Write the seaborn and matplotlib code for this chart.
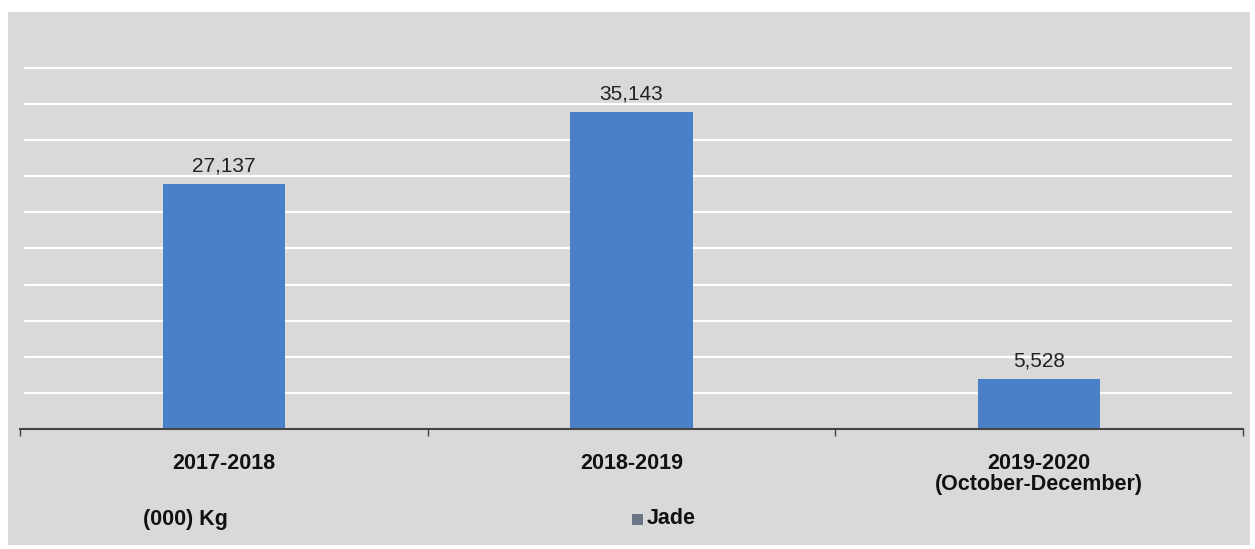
#Bar chart of jade production per fiscal year
import pandas as pd
import numpy as np
import seaborn as sns
import matplotlib.pyplot as plt
from matplotlib.patches import Rectangle

periods = ['2017-2018', '2018-2019', '2019-2020\n(October-December)']
jade = [27137, 35143, 5528]
unit_label = '(000) Kg'
series_name = 'Jade'

bg = '#d9d9d9'
bar_color = '#4a80c8'

sns.set_theme(style='white')
plt.rcParams['font.family'] = ['Liberation Sans', 'DejaVu Sans']

df = pd.DataFrame({'period': periods, 'value': jade})

fig = plt.figure(figsize=(12.55, 5.49), dpi=100)
fig.patch.set_facecolor('white')
# gray panel behind the whole chart, labels included
fig.patches.append(Rectangle((8 / 1255, 4 / 549), 1242 / 1255, 533 / 549,
                             transform=fig.transFigure, facecolor=bg,
                             edgecolor='none', zorder=-5))

ax = fig.add_axes([20 / 1255, 120 / 549, 1223 / 1255, 417 / 549])
ax.set_zorder(2)
ax.patch.set_alpha(0)

sns.barplot(data=df, x='period', y='value', color=bar_color, width=0.3,
            saturation=1, edgecolor='none', linewidth=0, ax=ax, zorder=3)

ax.set_xlim(-0.5, 2.5)
ax.set_ylim(0, 46200)

# white gridlines every 4000
for yv in np.arange(4000, 40001, 4000):
    ax.axhline(yv, xmin=0.004, xmax=0.99, color='white', lw=1.6, zorder=1)

ax.bar_label(ax.containers[0], labels=[f'{v:,}' for v in jade],
             padding=6, fontsize=15, color='#222222')

for s in ['top', 'right', 'left']:
    ax.spines[s].set_visible(False)
ax.spines['bottom'].set_color('#444444')
ax.spines['bottom'].set_linewidth(1.5)
ax.spines['bottom'].set_zorder(4)

ax.set_yticks([])
ax.set_xticks([0, 1, 2])
ax.set_xticklabels(periods, fontsize=15.5, fontweight='bold', color='#111111',
                   linespacing=1.0)
ax.tick_params(axis='x', length=0, pad=17)
# small boundary tick marks between categories
ax.set_xticks([-0.5, 0.5, 1.5, 2.5], minor=True)
ax.tick_params(axis='x', which='minor', length=5, width=1, color='#444444',
               direction='out', bottom=True)
ax.set_xlabel('')
ax.set_ylabel('')

fig.text(143 / 1255, 1 - 519 / 549, unit_label, fontsize=15.5, fontweight='bold',
         color='#111111', va='center', ha='left')
fig.patches.append(Rectangle((632 / 1255, 1 - 525 / 549), 11 / 1255, 11 / 549,
                             transform=fig.transFigure, facecolor='#6b7585',
                             edgecolor='none', zorder=2))
fig.text(647 / 1255, 1 - 519 / 549, series_name, fontsize=15.5, fontweight='bold',
         color='#111111', va='center', ha='left')

plt.savefig('out.png', dpi=100)
